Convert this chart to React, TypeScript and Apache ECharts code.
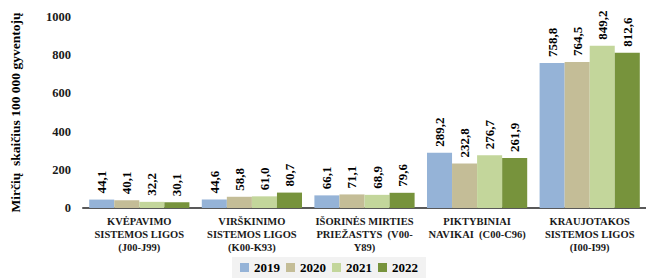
import React, { useEffect, useRef } from "react";
import * as echarts from "echarts";

const categories = [
  "KVĖPAVIMO\nSISTEMOS LIGOS\n(J00-J99)",
  "VIRŠKINIMO\nSISTEMOS LIGOS\n(K00-K93)",
  "IŠORINĖS MIRTIES\nPRIEŽASTYS  (V00-\nY89)",
  "PIKTYBINIAI\nNAVIKAI  (C00-C96)",
  "KRAUJOTAKOS\nSISTEMOS LIGOS\n(I00-I99)",
];
const years = ["2019", "2020", "2021", "2022"];
const v2019 = [44.1, 44.6, 66.1, 289.2, 758.8];
const v2020 = [40.1, 58.8, 71.1, 232.8, 764.5];
const v2021 = [32.2, 61.0, 68.9, 276.7, 849.2];
const v2022 = [30.1, 80.7, 79.6, 261.9, 812.6];
const colors = ["#95B3D7", "#C4BD97", "#C3D69B", "#77933C"];
const yTicks = [0, 200, 400, 600, 800, 1000];

const FONT = "Liberation Serif, serif";

export default function App() {
  const ref = useRef<HTMLDivElement>(null);
  useEffect(() => {
    if (!ref.current) return;
    const chart = echarts.init(ref.current, undefined, { renderer: "svg" });
    const seriesData = [v2019, v2020, v2021, v2022];
    chart.setOption({
      animation: false,
      textStyle: { fontFamily: FONT },
      grid: { left: 80, right: 0, top: 17, bottom: 70, containLabel: false },
      legend: {
        data: years,
        left: 232,
        bottom: 0,
        itemWidth: 9,
        itemHeight: 9,
        itemGap: 6,
        backgroundColor: "#f2f2f2",
        padding: [4, 8, 4, 8],
        textStyle: { fontFamily: FONT, fontWeight: "bold", fontSize: 13, color: "#000" },
        icon: "rect",
      },
      xAxis: {
        type: "category",
        data: categories,
        axisLine: { lineStyle: { color: "#595959", width: 2 } },
        axisTick: { show: false },
        axisLabel: {
          interval: 0,
          fontFamily: FONT,
          fontWeight: "bold",
          fontSize: 10.5,
          lineHeight: 13,
          color: "#1a1a1a",
          margin: 7,
        },
      },
      yAxis: {
        type: "value",
        min: yTicks[0],
        max: yTicks[yTicks.length - 1],
        interval: 200,
        splitLine: { show: false },
        axisLine: { show: false },
        axisTick: { show: false },
        axisLabel: {
          fontFamily: FONT,
          fontWeight: "bold",
          fontSize: 12.5,
          color: "#1a1a1a",
          margin: 12,
          formatter: (v: number) => String(v),
        },
        name: "Mirčių  skaičius 100 000 gyventojų",
        nameLocation: "middle",
        nameGap: 61,
        nameTextStyle: { fontFamily: FONT, fontWeight: "bold", fontSize: 13.5, color: "#000" },
      },
      series: years.map((y, i) => ({
        name: y,
        type: "bar",
        data: seriesData[i],
        barGap: "0%",
        barCategoryGap: "11%",
        itemStyle: { color: colors[i] },
        label: {
          show: true,
          position: "top",
          rotate: 90,
          align: "left",
          verticalAlign: "middle",
          distance: 6,
          fontFamily: FONT,
          fontWeight: "bold",
          fontSize: 13,
          color: "#000",
          formatter: (p: any) => p.value.toFixed(1).replace(".", ","),
        },
      })),
    });
    return () => chart.dispose();
  }, []);
  return (
    <div
      ref={ref}
      style={{ position: "absolute", left: 0, top: 0, width: 646, height: 278, background: "#fff" }}
    />
  );
}
